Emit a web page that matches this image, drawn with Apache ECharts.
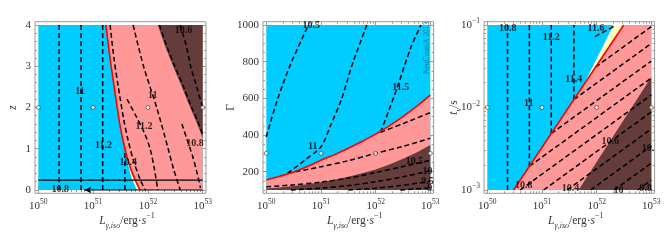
<!DOCTYPE html>
<html><head><meta charset="utf-8">
<script src="https://cdn.jsdelivr.net/npm/echarts@6/dist/echarts.min.js"></script>
<style>html,body{margin:0;padding:0;background:#fff}#c{width:664px;height:242px}</style>
</head><body><div id="c"></div>
<script>
// ================= DATA =================
// x is log10(L_gamma,iso / erg s^-1) in all panels
const xTickValues = [50, 51, 52, 53];
const logMinorFactors = [2, 3, 4, 5, 6, 7, 8, 9];
const xRange = [50, 53];

// ---- Panel 1: z vs L ----
const p1YRange = [0, 4];
const p1YTicks = [0, 1, 2, 3, 4];
const p1RedBoundary = [[51.235,4],[51.28,3.5],[51.33,3],[51.385,2.5],[51.44,2],[51.50,1.5],[51.58,1],[51.63,0.75],[51.69,0.5],[51.765,0.25],[51.855,0]];
const p1BrownBoundary = [[52.18,4],[52.31,3.5],[52.46,3],[52.62,2.5],[52.77,2],[52.87,1.7],[52.96,1.4],[53,1.25]];
const p1YellowSliver = [[51.605,0.9],[51.63,0.75],[51.69,0.5],[51.765,0.25],[51.855,0],[51.80,0],[51.70,0.3],[51.64,0.6]];
const p1ContoursVertical = [
  [[50.38,0],[50.38,4]], [[50.78,0],[50.78,4]], [[51.175,0],[51.175,4]], [[51.58,0],[51.58,1.0]]
];
const p1ContoursCurved = [
  [[51.31,4],[51.38,3.2],[51.46,2.5],[51.56,1.7],[51.64,1.2],[51.74,0.7],[51.86,0.25],[51.95,0]],
  [[51.73,4],[51.92,3],[52.16,2],[52.37,1],[52.47,0.5],[52.59,0]],
  [[51.62,2.2],[51.78,1.8],[51.93,1.4],[52.04,1.0],[52.12,0.5],[52.18,0]],
  [[52.21,4],[52.34,3.5],[52.49,3],[52.65,2.5],[52.80,2],[52.90,1.7],[53,1.35]],
  [[52.585,4],[52.70,3.5],[52.78,3],[52.89,2.5],[53,2.0]],
  [[52.62,1.6],[52.72,1.2],[52.82,0.8],[52.90,0.4],[52.96,0.05]]
];
const p1SolidLine = [[50,0.24],[53,0.24]];
const p1ArrowLine = [[50.84,0],[53,0]];
const p1Points = [[50,2],[51,2],[52,2],[53,2]];
const p1Labels = [['10.8',50.40,0.02],['11',50.76,2.38],['11.2',51.19,1.09],['10.4',51.64,0.68],
  ['11',52.09,2.30],['11.2',51.93,1.53],['10.6',52.65,3.88],['10.8',52.86,1.12]];

// ---- Panel 2: Gamma vs L ----
const p2YRange = [100, 1000];
const p2YTicks = [200, 400, 600, 800, 1000];
const p2RedBoundary = [[50,154],[50.25,175],[50.5,198],[50.75,228],[51,262],[51.25,293],[51.5,328],[51.75,365],[52,405],[52.25,450],[52.5,500],[52.75,556],[53,618]];
const p2BrownBoundary = [[50,108],[50.25,114],[50.5,122],[50.75,131],[51,142],[51.25,156],[51.5,172],[51.75,191],[52,212],[52.25,239],[52.5,270],[52.75,305],[53,345]];
const p2Contours = [
  [[50,390],[50.2,590],[50.45,790],[50.77,1000]],
  [[50.39,191],[50.7,262],[51.0,336],[51.18,455],[51.37,591],[51.58,791],[51.84,1000]],
  [[52.09,415],[52.25,540],[52.4,664],[52.65,882],[52.83,1000]],
  [[52.09,415],[52.5,462],[53,522]],
  [[50.39,191],[51,227],[51.5,260],[52,300],[52.5,338],[53,382]],
  [[50,118],[50.5,128],[51,143],[51.5,165],[52,195],[52.5,228],[53,262]],
  [[50.45,100],[51,110],[51.5,124],[52,145],[52.5,172],[53,205]],
  [[51.5,100],[52,110],[52.5,126],[53,148]],
  [[52.45,100],[53,112]]
];
const p2Points = [[50,300],[51,300],[52,300],[53,300]];
const p2Labels = [['10.5',50.82,1000],['11',50.85,336],['11.5',52.46,660],['10.5',52.71,254],
  ['10',52.95,200],['9.5',52.95,145],['9',52.99,109]];
const p2Credit = ['NeuCosmA 2013', 52.94, 875];

// ---- Panel 3: log10(t_v / s) vs L ----
const p3YRange = [-3, -1];
const p3YTicks = [-3, -2, -1];
const p3PinkRegion = [[50.48,-3],[52.495,-1],[53,-1],[53,-3]];
const p3RedBoundary = [[50.48,-3],[52.495,-1]];
const p3YellowRegion = [[51.78,-1.70],[52.31,-1],[52.495,-1]];
const p3BrownRegion = [[51.67,-3],[53,-1.63],[53,-3]];
const p3Contours = [
  [[50.37,-3],[50.37,-1]], [[50.77,-2.712],[50.77,-1]], [[51.17,-2.315],[51.17,-1]], [[51.585,-1.903],[51.585,-1]],
  [[51.98,-1.51],[53,-1.02]], [[51.585,-1.903],[53,-1.224]], [[51.17,-2.315],[53,-1.437]],
  [[50.77,-2.712],[53,-1.642]], [[50.6,-3],[53,-1.848]], [[51.03,-3],[53,-2.054]],
  [[51.46,-3],[53,-2.26]], [[51.89,-3],[53,-2.467]], [[52.32,-3],[53,-2.674]], [[52.75,-3],[53,-2.88]],
  [[51.97,-1.14],[52.34,-1.01]]
];
const p3Points = [[50,-2],[51,-2],[52,-2],[53,-2]];
const p3Labels = [['10.8',50.373,-1.04],['11',50.757,-1.95],['11.2',51.17,-1.15],['11.4',51.58,-1.655],
  ['11.6',51.99,-1.04],['10.6',52.25,-2.41],['10.',52.94,-2.49],['10.8',50.666,-2.95],
  ['10.4',51.52,-2.98],['10',52.40,-3.0],['9.8',52.90,-2.98]];

// ================= STYLE / LAYOUT =================
const SERIF = '"Liberation Serif","DejaVu Serif",serif';
const C_CYAN = '#00ccff', C_PINK = '#ff9999', C_BROWN = '#643c3c', C_YELLOW = '#ffffc0', C_RED = '#ff0000';
const FRAME = '#9a9a9a', TXT = '#333';
const PAD = 0.02;
const dataRects = [
  {x:38.3, y:25, w:164.4, h:165},
  {x:266.3, y:25, w:164, h:165},
  {x:487.3, y:25, w:164, h:165}
];
const yRanges = [p1YRange, p2YRange, p3YRange];

function padRange(r){ const d = (r[1]-r[0])*PAD; return [r[0]-d, r[1]+d]; }
function range(a,b,s){ const out=[]; for(let v=a; v<=b+1e-9; v+=s) out.push(+v.toFixed(6)); return out; }
const xMinor = [];
for (let n = 50; n < 53; n++) for (const k of logMinorFactors) xMinor.push(n + Math.log10(k));
const p3Minor = [];
for (let n = -3; n < -1; n++) for (const k of logMinorFactors) p3Minor.push(n + Math.log10(k));
const yMajor = [p1YTicks, p2YTicks, p3YTicks];
const yMinor = [range(0,4,0.2).filter(v=>!p1YTicks.includes(v)), range(100,1000,50).filter(v=>!p2YTicks.includes(v)), p3Minor];

const supRich = {
  a:{fontFamily:SERIF, fontSize:11, color:TXT, lineHeight:15},
  b:{fontFamily:SERIF, fontSize:7.5, color:TXT, lineHeight:9, verticalAlign:'top'}
};
const yFormat = [
  v => String(v),
  v => String(v),
  v => '{a|10}{b|\u2212' + Math.abs(Math.round(v)) + '}'
];
const nameRich = {
  i:{fontFamily:SERIF, fontSize:11.5, fontStyle:'italic', color:TXT, lineHeight:18},
  n:{fontFamily:SERIF, fontSize:11.5, color:TXT, lineHeight:18},
  sub:{fontFamily:SERIF, fontSize:8, fontStyle:'italic', color:TXT, lineHeight:10, verticalAlign:'bottom'},
  sup:{fontFamily:SERIF, fontSize:8, color:TXT, lineHeight:10, verticalAlign:'top'}
};
const yNames = ['{i|z}', '{n|\u0393}', '{i|t}{sub|v}{n|/s}'];
const yNameGaps = [13, 23, 21];

const grids = [], xAxes = [], yAxes = [];
dataRects.forEach((r, g) => {
  grids.push({left:r.x - r.w*PAD, top:r.y - r.h*PAD, width:r.w*(1+2*PAD), height:r.h*(1+2*PAD),
    show:true, borderColor:FRAME, borderWidth:1, backgroundColor:'#fff', containLabel:false});
  const xr = padRange(xRange), yr = padRange(yRanges[g]);
  const tick = (vals, len) => ({show:true, inside:true, length:len, customValues:vals, lineStyle:{color:FRAME, width:1}});
  ['bottom','top'].forEach(pos => {
    [true,false].forEach(major => {
      const ax = {type:'value', gridIndex:g, position:pos, min:xr[0], max:xr[1],
        axisLine:{show:false}, splitLine:{show:false},
        axisTick: tick(major ? xTickValues : xMinor, major ? 4 : 2),
        axisLabel:{show:false}};
      if (pos === 'bottom' && major) {
        ax.axisLabel = {show:true, customValues:xTickValues, margin:5, rich:supRich,
          formatter: v => '{a|10}{b|' + Math.round(v) + '}'};
        ax.name = '{i|L}{sub|\u03b3,iso}{n|/erg\u00b7}{i|s}{sup|\u22121}';
        ax.nameLocation = 'middle'; ax.nameGap = 19; ax.nameMoveOverlap = false;
        ax.nameTextStyle = {rich:nameRich, padding:[0,0,0,13]};
      }
      xAxes.push(ax);
    });
  });
  ['left','right'].forEach(pos => {
    [true,false].forEach(major => {
      const ax = {type:'value', gridIndex:g, position:pos, min:yr[0], max:yr[1],
        axisLine:{show:false}, splitLine:{show:false},
        axisTick: tick(major ? yMajor[g] : yMinor[g], major ? 4 : 2),
        axisLabel:{show:false}};
      if (pos === 'left' && major) {
        ax.axisLabel = {show:true, customValues:yMajor[g], margin:4, rich:supRich,
          fontFamily:SERIF, fontSize:11, color:TXT, formatter: yFormat[g]};
        ax.name = yNames[g]; ax.nameLocation = 'middle'; ax.nameRotate = 90; ax.nameGap = yNameGaps[g];
        ax.nameMoveOverlap = false;
        ax.nameTextStyle = {rich:nameRich};
      }
      yAxes.push(ax);
    });
  });
});

// ================= SERIES =================
const series = [];
function poly(g, pts, color, z){
  series.push({type:'custom', xAxisIndex:4*g, yAxisIndex:4*g, z:z, silent:true, data:pts,
    renderItem:(params, api) => {
      if (params.dataIndex !== 0) return null;
      return {type:'polygon', shape:{points:pts.map(p => api.coord(p))}, style:{fill:color}};
    }});
}
function line(g, pts, style, z, smooth){
  series.push({type:'line', xAxisIndex:4*g, yAxisIndex:4*g, data:pts, symbol:'none', showSymbol:false,
    smooth:smooth || false, z:z, silent:true, lineStyle:style});
}
const DASH = {color:'#000', width:1.5, type:[5,3]};
const REDL = {color:C_RED, width:1.6};
function rect(r, yr){ return [[r[0],yr[0]],[r[1],yr[0]],[r[1],yr[1]],[r[0],yr[1]]]; }
function dots(g, pts){
  series.push({type:'scatter', xAxisIndex:4*g, yAxisIndex:4*g, data:pts, symbol:'circle', symbolSize:4, z:9, silent:true,
    itemStyle:{color:'#fff', borderColor:'#222', borderWidth:0.7}});
}
function labels(g, arr, extra){
  series.push({type:'scatter', xAxisIndex:4*g, yAxisIndex:4*g, z:10, silent:true, symbolSize:1,
    itemStyle:{color:'rgba(0,0,0,0)'},
    data:arr.map(a => ({name:a[0], value:[a[1], a[2]]})),
    label:Object.assign({show:true, position:'inside', formatter:'{b}', fontFamily:SERIF, fontWeight:'bold',
      fontSize:10, color:'#000'}, extra || {})});
}

// Panel 1
poly(0, rect(xRange, p1YRange), C_CYAN, 1);
poly(0, p1RedBoundary.concat([[53,0],[53,4]]), C_PINK, 2);
poly(0, p1YellowSliver, C_YELLOW, 2);
poly(0, p1BrownBoundary.concat([[53,4]]), C_BROWN, 3);
p1ContoursVertical.forEach(c => line(0, c, DASH, 5));
p1ContoursCurved.forEach(c => line(0, c, DASH, 5, 0.3));
line(0, p1RedBoundary, REDL, 6, 0.3);
line(0, p1SolidLine, {color:'#000', width:1.3}, 6);
series.push({type:'line', xAxisIndex:0, yAxisIndex:0, z:6, silent:true, showSymbol:true, symbol:'none',
  data:[{value:p1ArrowLine[0], symbol:'arrow', symbolSize:[5,7], symbolRotate:90}, {value:p1ArrowLine[1]}],
  itemStyle:{color:'#000'}, lineStyle:{color:'#000', width:1.2}});
dots(0, p1Points);
labels(0, p1Labels);

// Panel 2
poly(1, rect(xRange, p2YRange), C_CYAN, 1);
poly(1, p2RedBoundary.concat([[53,100],[50,100]]), C_PINK, 2);
poly(1, p2BrownBoundary.concat([[53,100],[50,100]]), C_BROWN, 3);
p2Contours.forEach(c => line(1, c, DASH, 5, 0.3));
line(1, p2RedBoundary, REDL, 6, 0.3);
dots(1, p2Points);
labels(1, p2Labels);
labels(1, [p2Credit], {fontWeight:'normal', fontSize:7.5, color:'#0d6483', rotate:90});

// Panel 3
poly(2, rect(xRange, p3YRange), C_CYAN, 1);
poly(2, p3PinkRegion, C_PINK, 2);
poly(2, p3YellowRegion, C_YELLOW, 2);
poly(2, p3BrownRegion, C_BROWN, 3);
p3Contours.forEach(c => line(2, c, DASH, 5));
line(2, p3RedBoundary, REDL, 6);
dots(2, p3Points);
labels(2, p3Labels);

const chart = echarts.init(document.getElementById('c'), null, {renderer:'canvas'});
chart.setOption({animation:false, grid:grids, xAxis:xAxes, yAxis:yAxes, series:series,
  textStyle:{fontFamily:SERIF}});
</script></body></html>
